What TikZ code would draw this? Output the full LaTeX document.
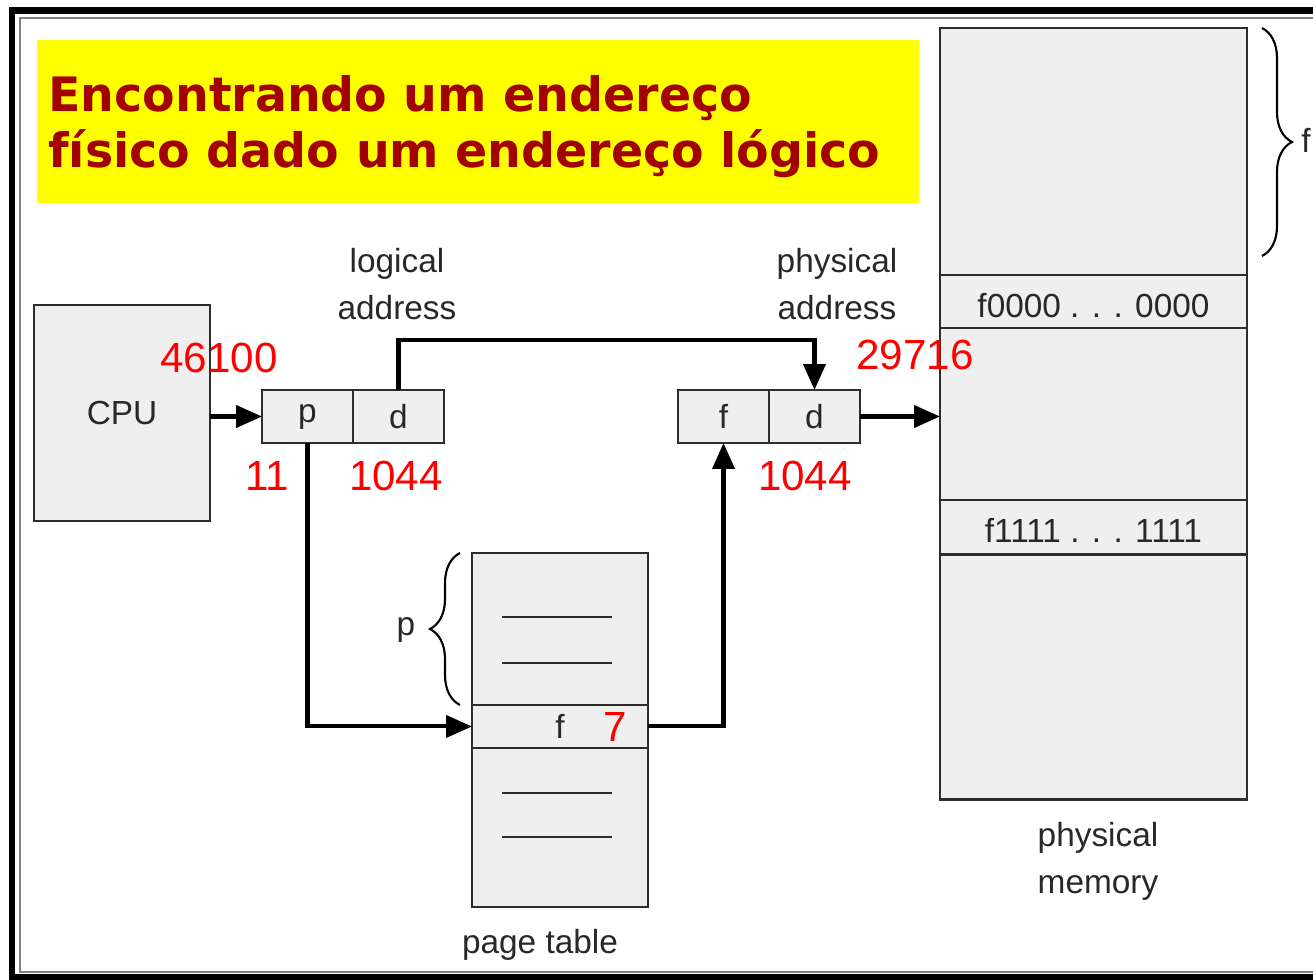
\documentclass[tikz,border=0pt]{standalone}
\usepackage{fontspec}
\setmainfont{Liberation Sans}
\newfontfamily\titlefont{DejaVu Sans}
\usetikzlibrary{arrows.meta,decorations.pathreplacing,calc}

\definecolor{boxgray}{RGB}{239,239,239}
\definecolor{linegray}{RGB}{45,45,45}
\definecolor{titlered}{RGB}{163,0,0}
\definecolor{textgray}{RGB}{40,40,40}
\definecolor{bannerfill}{RGB}{255,255,0}

\tikzset{
  cell/.style={draw=linegray, fill=boxgray, line width=1.6pt, outer sep=0pt, inner sep=0pt,
    text=textgray, font=\fontsize{19}{23}\selectfont},
  lbl/.style={text=textgray, align=center, font=\fontsize{19}{26.7}\selectfont},
  num/.style={text=red, font=\fontsize{24}{28}\selectfont, inner sep=0pt},
  arr/.style={line width=2.3pt, -{Triangle[length=0.52cm,width=0.44cm]}},
  entry/.style={line width=1.6pt, linegray},
  brc/.style={decorate, decoration={brace, amplitude=0.6cm}, line width=1.2pt},
}

\begin{document}
\begin{tikzpicture}[x=0.02cm, y=-0.02cm]
\useasboundingbox (0,0) rectangle (1313,980);

% frame
\draw[line width=0.14cm] (1313,11) -- (12,11) -- (12,977) -- (1313,977);
\draw[gray, line width=0.05cm] (1313,18) -- (20,18) -- (20,972) -- (1313,972);

% title
\node[fill=bannerfill, minimum width=17.64cm, minimum height=3.26cm, inner sep=0pt] (banner) at (478,121.5) {};
\node[anchor=base west, align=left, inner sep=0pt, text=titlered,
  font=\titlefont\bfseries\fontsize{27}{32}\selectfont] (title) at (48,168)
  {Encontrando um endereço\\físico dado um endereço lógico};

% cpu and logical address
\node[cell, minimum width=3.52cm, minimum height=4.32cm] (cpu) at (122,413) {CPU};
\node[cell, minimum width=1.82cm, minimum height=1.06cm] (p) at (307.5,416.5) {p};
\node[cell, minimum width=1.82cm, minimum height=1.06cm, anchor=west] (d) at (p.east) {d};
\node[lbl] (laddr) at (397,284) {logical\\address};

% physical address
\node[cell, minimum width=1.82cm, minimum height=1.06cm] (f) at (723.5,416.5) {f};
\node[cell, minimum width=1.82cm, minimum height=1.06cm, anchor=west] (d2) at (f.east) {d};
\node[lbl] (paddr) at (837,284) {physical\\address};

% page table
\node[cell, minimum width=3.52cm, minimum height=3.04cm, anchor=north west] (pt1) at (472,553) {};
\node[cell, minimum width=3.52cm, minimum height=0.86cm, anchor=north] (ptf) at (pt1.south) {f};
\node[cell, minimum width=3.52cm, minimum height=3.18cm, anchor=north] (pt2) at (ptf.south) {};
\draw[entry] (502,617) -- (612,617);
\draw[entry] (502,663) -- (612,663);
\draw[entry] (502,793) -- (612,793);
\draw[entry] (502,837) -- (612,837);
\node[lbl] (ptname) at (540,945) {page table};
\draw[brc] (460,705) -- (460,553);
\node[lbl] (pmark) at (406,630) {p};

% physical memory
\node[cell, minimum width=6.14cm, minimum height=4.94cm, anchor=north west] (m1) at (940,28) {};
\node[cell, minimum width=6.14cm, minimum height=1.06cm, anchor=north, text height=0.66cm, text depth=0pt] (m2) at (m1.south) {f0000 . . . 0000};
\node[cell, minimum width=6.14cm, minimum height=3.44cm, anchor=north] (m3) at (m2.south) {};
\node[cell, minimum width=6.14cm, minimum height=1.1cm, anchor=north, text height=0.6cm, text depth=0pt] (m4) at (m3.south) {f1111 . . . 1111};
\node[cell, minimum width=6.14cm, minimum height=4.9cm, anchor=north] (m5) at (m4.south) {};
\node[lbl] (pmem) at (1098,861) {physical\\memory};
\draw[brc] (1262,28) -- (1262,256);
\node[lbl] (fmark) at (1306,140) {f};

% connectors
\draw[arr] (cpu.east |- p.west) -- (p.west);
\draw[arr] (d.north) |- ($(d2.north)+(0,-50)$) -- (d2.north);
\draw[arr] (p.south) |- (ptf.west);
\draw[arr] (ptf.east) -| (f.south);
\draw[arr] (d2.east) -- (d2.east -| m3.west);

% values
\node[num] (vlog) at (219,358) {46100};
\node[num] (vp) at (267,476) {11};
\node[num] (vd) at (396,476) {1044};
\node[num] (vd2) at (805,476) {1044};
\node[num] (vphys) at (915,355) {29716};
\node[num] (vf) at (615,727) {7};
\end{tikzpicture}
\end{document}
